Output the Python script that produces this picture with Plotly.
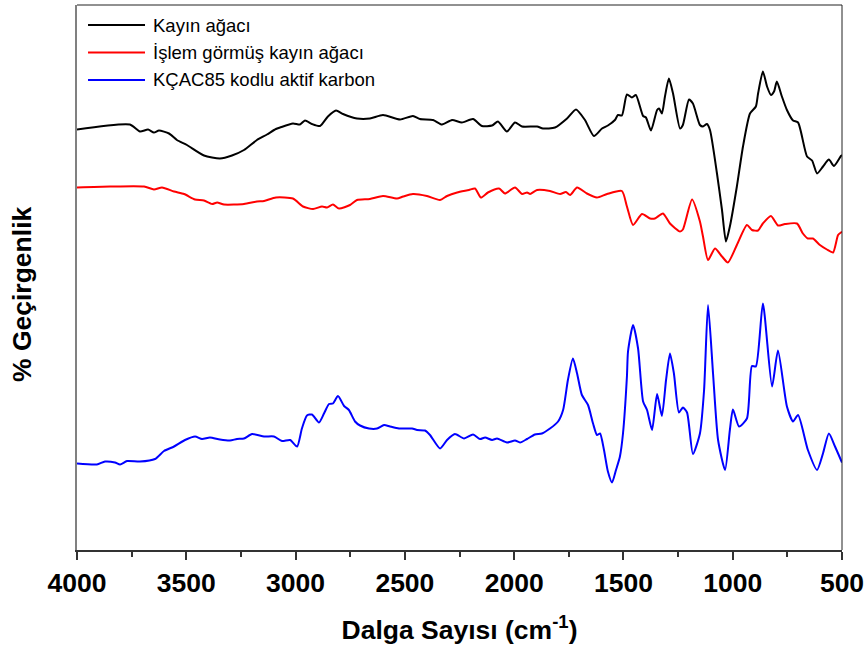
import plotly.graph_objects as go

# FTIR spectra: wavenumber (cm-1) and offset transmittance (arbitrary %T units)
kayin_wn = [4000, 3758, 3712, 3675, 3648, 3625, 3579, 3543, 3497, 3419, 3346, 3291, 3236, 3177, 3131,
            3090, 3071, 3012, 2980, 2957, 2925, 2888, 2852, 2815, 2783, 2719, 2660, 2600, 2522, 2463,
            2431, 2371, 2330, 2284, 2239, 2188, 2147, 2101, 2074, 2033, 1996, 1964, 1895, 1868, 1813,
            1758, 1717, 1676, 1635, 1598, 1571, 1539, 1525, 1507, 1484, 1461, 1443, 1410, 1397, 1374,
            1346, 1337, 1324, 1310, 1292, 1273, 1241, 1228, 1200, 1182, 1150, 1136, 1118, 1104, 1072,
            1049, 1031, 1013, 981, 953, 921, 894, 884, 862, 843, 825, 811, 798, 775, 752,
            724, 701, 660, 637, 614, 587, 560, 537, 505, 500]
kayin_t = [84.1, 85.1, 83.7, 84.1, 83.5, 83.9, 83.3, 82.0, 81.0, 78.9, 78.3, 78.9, 80.0, 82.0, 83.1,
           84.2, 84.5, 85.3, 85.1, 85.9, 85.2, 84.8, 86.7, 87.9, 87.2, 86.3, 86.3, 87.0, 86.1, 86.8,
           86.2, 86.0, 85.1, 86.0, 85.5, 86.2, 84.8, 84.9, 85.7, 83.7, 85.5, 84.7, 84.7, 84.3, 84.5,
           86.3, 88.1, 86.0, 82.8, 84.3, 84.9, 86.0, 87.0, 86.9, 91.1, 90.5, 91.0, 86.8, 86.5, 83.9,
           88.0, 88.3, 87.3, 90.7, 94.3, 91.3, 84.3, 85.0, 90.1, 89.3, 85.0, 84.7, 85.2, 84.0, 75.3,
           68.0, 61.7, 64.7, 72.7, 80.7, 87.3, 88.7, 91.3, 95.7, 92.7, 91.0, 91.7, 93.7, 90.7, 88.0,
           85.9, 85.5, 78.7, 77.9, 75.3, 76.7, 78.1, 76.8, 78.8, 79.0]

islem_wn = [4000, 3849, 3693, 3648, 3611, 3556, 3510, 3460, 3419, 3382, 3359, 3327, 3236, 3177, 3144,
            3090, 3012, 2966, 2920, 2879, 2856, 2829, 2801, 2751, 2719, 2660, 2600, 2536, 2508, 2463,
            2399, 2339, 2307, 2261, 2207, 2179, 2152, 2120, 2069, 2042, 1996, 1964, 1941, 1927, 1895,
            1836, 1790, 1763, 1744, 1712, 1667, 1621, 1575, 1507, 1484, 1456, 1415, 1378, 1356, 1319,
            1287, 1241, 1228, 1186, 1150, 1136, 1113, 1081, 1049, 1022, 981, 935, 912, 884, 862,
            825, 793, 761, 706, 679, 656, 633, 601, 569, 541, 518, 505, 500]
islem_t = [72.5, 72.7, 72.7, 72.1, 72.5, 71.7, 71.2, 70.1, 69.9, 69.2, 69.5, 69.1, 69.2, 69.7, 69.8,
           70.5, 70.3, 68.7, 68.2, 68.7, 68.5, 69.1, 68.3, 69.0, 70.0, 70.2, 70.8, 70.3, 70.7, 71.2,
           70.8, 70.0, 70.8, 71.5, 72.0, 72.3, 70.5, 71.5, 72.3, 71.3, 72.5, 71.2, 71.5, 71.2, 72.0,
           71.8, 71.2, 71.6, 71.0, 72.5, 71.3, 70.5, 71.2, 71.8, 68.7, 65.0, 67.2, 66.3, 66.3, 67.3,
           65.3, 63.7, 64.1, 70.1, 65.7, 62.7, 58.0, 60.3, 58.7, 57.5, 61.0, 65.0, 64.0, 63.9, 65.3,
           66.8, 64.9, 65.2, 65.3, 63.3, 62.3, 62.3, 61.0, 60.1, 59.5, 63.0, 63.5, 63.6]

kcac_wn = [4000, 3909, 3872, 3826, 3803, 3771, 3712, 3643, 3602, 3556, 3506, 3460, 3428, 3392, 3346,
           3300, 3268, 3236, 3199, 3144, 3099, 3062, 3025, 2993, 2971, 2948, 2925, 2893, 2870, 2847,
           2829, 2806, 2778, 2756, 2728, 2705, 2664, 2627, 2595, 2568, 2527, 2467, 2444, 2408, 2385,
           2339, 2307, 2271, 2229, 2188, 2156, 2133, 2101, 2078, 2033, 1996, 1973, 1941, 1905, 1873,
           1836, 1799, 1776, 1754, 1731, 1712, 1690, 1662, 1639, 1621, 1607, 1589, 1571, 1552, 1534,
           1516, 1502, 1484, 1479, 1456, 1433, 1410, 1392, 1369, 1346, 1324, 1305, 1287, 1269, 1246,
           1228, 1209, 1182, 1150, 1131, 1113, 1090, 1067, 1035, 1013, 999, 971, 935, 912, 894,
           862, 820, 793, 752, 724, 701, 656, 614, 587, 560, 532, 505, 500]
kcac_t = [17.3, 17.1, 17.7, 17.5, 17.1, 17.8, 17.7, 18.2, 19.8, 20.7, 22.0, 22.7, 22.2, 22.5, 22.1,
          21.9, 22.2, 22.3, 23.2, 22.7, 22.7, 21.8, 22.0, 20.7, 24.3, 26.9, 27.1, 25.5, 27.3, 29.2,
          29.3, 30.8, 28.8, 28.0, 25.7, 24.9, 24.3, 24.3, 25.0, 24.7, 24.3, 24.3, 24.0, 23.9, 23.0,
          20.3, 22.0, 23.2, 22.3, 23.1, 22.2, 22.5, 22.0, 22.3, 21.5, 21.9, 21.5, 22.2, 23.1, 23.3,
          24.3, 25.7, 28.0, 34.0, 38.3, 35.3, 31.0, 29.0, 25.3, 23.0, 23.3, 20.0, 15.7, 13.5, 16.0,
          18.7, 23.3, 34.7, 39.7, 45.0, 40.3, 29.7, 28.0, 24.0, 31.2, 26.8, 34.0, 39.3, 35.3, 27.5,
          28.5, 27.5, 19.2, 23.3, 32.0, 49.0, 35.3, 22.0, 16.0, 24.0, 28.1, 24.7, 26.3, 36.8, 36.7,
          49.3, 32.7, 39.9, 28.7, 25.7, 27.0, 20.0, 16.0, 19.3, 23.3, 20.7, 18.0, 17.5]

series_names = ["Kayın ağacı", "İşlem görmüş kayın ağacı", "KÇAC85 kodlu aktif karbon"]
series_colors = ["#000000", "#ff0000", "#0000ff"]
series_wn = [kayin_wn, islem_wn, kcac_wn]
series_t = [kayin_t, islem_t, kcac_t]

x_ticks = [4000, 3500, 3000, 2500, 2000, 1500, 1000, 500]

fig = go.Figure()
for name, wn, t, color in zip(series_names, series_wn, series_t, series_colors):
    fig.add_trace(go.Scatter(
        x=wn, y=t, name=name, mode="lines", showlegend=False,
        line=dict(color=color, width=2, shape="spline", smoothing=0.6),
    ))

# Legend block in the top-left corner: long line samples followed by labels
legend_rows_y = [0.9633, 0.9128, 0.8624]
shapes = [
    dict(type="line", xref="paper", yref="paper", x0=0, x1=1, y0=1, y1=1,
         line=dict(color="#222", width=1)),
    dict(type="line", xref="paper", yref="paper", x0=1, x1=1, y0=0, y1=1,
         line=dict(color="#222", width=1)),
]
annotations = []
for name, color, ly in zip(series_names, series_colors, legend_rows_y):
    shapes.append(dict(type="line", xref="paper", yref="paper",
                       x0=0.0144, x1=0.0889, y0=ly, y1=ly,
                       line=dict(color=color, width=2)))
    annotations.append(dict(xref="paper", yref="paper", x=0.0967, y=ly,
                            xanchor="left", yanchor="middle", showarrow=False,
                            text=name, font=dict(family="Arial", size=18.5, color="black")))

# Vertical axis title
annotations.append(dict(xref="paper", yref="paper", x=0, y=0.4697, xshift=-55,
                        xanchor="center", yanchor="middle", showarrow=False, textangle=-90,
                        text="% Geçirgenlik",
                        font=dict(family="Arial", size=26.5, weight="bold", color="black")))

fig.update_layout(
    width=866, height=649,
    margin=dict(l=77, r=24, t=5, b=99, autoexpand=False),
    paper_bgcolor="white", plot_bgcolor="white",
    font=dict(family="Arial", color="black"),
    showlegend=False,
    xaxis=dict(
        range=[4000, 500], autorange=False, automargin=False,
        tickmode="array", tickvals=x_ticks, ticktext=[str(v) for v in x_ticks],
        ticks="outside", ticklen=8, tickwidth=1.5, tickcolor="#333",
        minor=dict(ticks="outside", ticklen=5, tickwidth=1.5, tickcolor="#333", dtick=250, tick0=500),
        showline=True, linecolor="#333", linewidth=2, mirror=False,
        showgrid=False, zeroline=False,
        tickfont=dict(family="Arial", size=26.5, weight="bold", color="black"),
        title=dict(text="Dalga Sayısı (cm<sup>-1</sup>)", standoff=24,
                   font=dict(family="Arial", size=26.5, weight="bold", color="black")),
    ),
    yaxis=dict(
        range=[0, 109], autorange=False, automargin=False,
        showticklabels=False, ticks="",
        showline=True, linecolor="#808080", linewidth=1.5, mirror=False,
        showgrid=False, zeroline=False,
    ),
    shapes=shapes,
    annotations=annotations,
)

fig.write_html("out.html")
